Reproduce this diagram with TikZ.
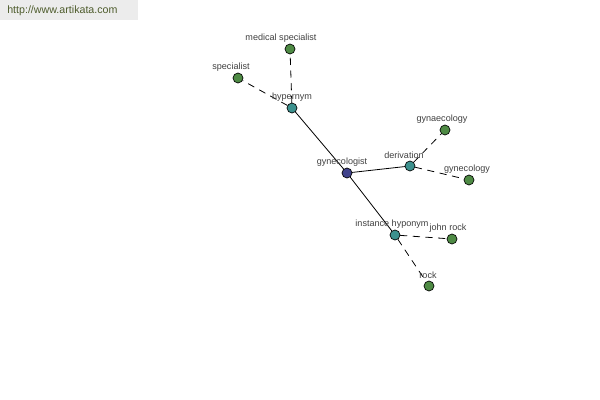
\documentclass[tikz,border=0pt]{standalone}
\usepackage{fontspec}
\setmainfont{Liberation Sans}
\usepackage{tikz}
\definecolor{center}{RGB}{64,66,140}
\definecolor{relation}{RGB}{60,145,142}
\definecolor{word}{RGB}{78,138,68}
\definecolor{banner}{RGB}{236,236,236}
\definecolor{site}{RGB}{78,92,44}
\definecolor{labelgray}{RGB}{64,64,64}

\begin{document}
\begin{tikzpicture}[line cap=round,line join=round,x=0.75pt,y=-0.75pt,
    dot/.style={circle,draw=black,line width=0.5pt,inner sep=0pt,minimum size=7.5pt},
    lbl/.style={inner sep=0pt,text=labelgray,font=\fontsize{6.8}{7.5}\selectfont},
    link/.style={line width=0.6pt},
    sublink/.style={line width=0.6pt,dash pattern=on 5pt off 4.5pt}]

    \useasboundingbox (0,0) rectangle (600,400);
    \fill[banner] (0,0) rectangle (138,20);
    \node[anchor=west,text=site,inner sep=0pt,font=\fontsize{8}{9}\selectfont] (site) at (7,11) {http://www.artikata.com};

    % nodes
    \node[dot,fill=center] (gynecologist) at (347,173) {};
    \node[dot,fill=relation] (hypernym) at (292,108) {};
    \node[dot,fill=relation] (derivation) at (410,166) {};
    \node[dot,fill=relation] (instance) at (395,235) {};
    \node[dot,fill=word] (specialist) at (238,78) {};
    \node[dot,fill=word] (medical) at (290,49) {};
    \node[dot,fill=word] (gynaecology) at (445,130) {};
    \node[dot,fill=word] (gynecology) at (469,180) {};
    \node[dot,fill=word] (johnrock) at (452,239) {};
    \node[dot,fill=word] (rock) at (429,286) {};

    % links
    \draw[link] (gynecologist) -- (hypernym);
    \draw[link] (gynecologist) -- (derivation);
    \draw[link] (gynecologist) -- (instance);
    \draw[sublink] (hypernym) -- (specialist);
    \draw[sublink] (hypernym) -- (medical);
    \draw[sublink] (derivation) -- (gynaecology);
    \draw[sublink] (derivation) -- (gynecology);
    \draw[sublink] (instance) -- (johnrock);
    \draw[sublink] (instance) -- (rock);

    % labels
    \node[lbl] (gynecologist-l) at (342,162) {gynecologist};
    \node[lbl] (hypernym-l) at (292,97) {hypernym};
    \node[lbl] (specialist-l) at (231,67) {specialist};
    \node[lbl] (medical-l) at (281,38) {medical specialist};
    \node[lbl] (derivation-l) at (404,155) {derivation};
    \node[lbl] (gynaecology-l) at (442,119) {gynaecology};
    \node[lbl] (gynecology-l) at (467,169) {gynecology};
    \node[lbl] (instance-l) at (392,224) {instance hyponym};
    \node[lbl] (johnrock-l) at (448,228) {john rock};
    \node[lbl] (rock-l) at (428,275) {rock};
\end{tikzpicture}
\end{document}
